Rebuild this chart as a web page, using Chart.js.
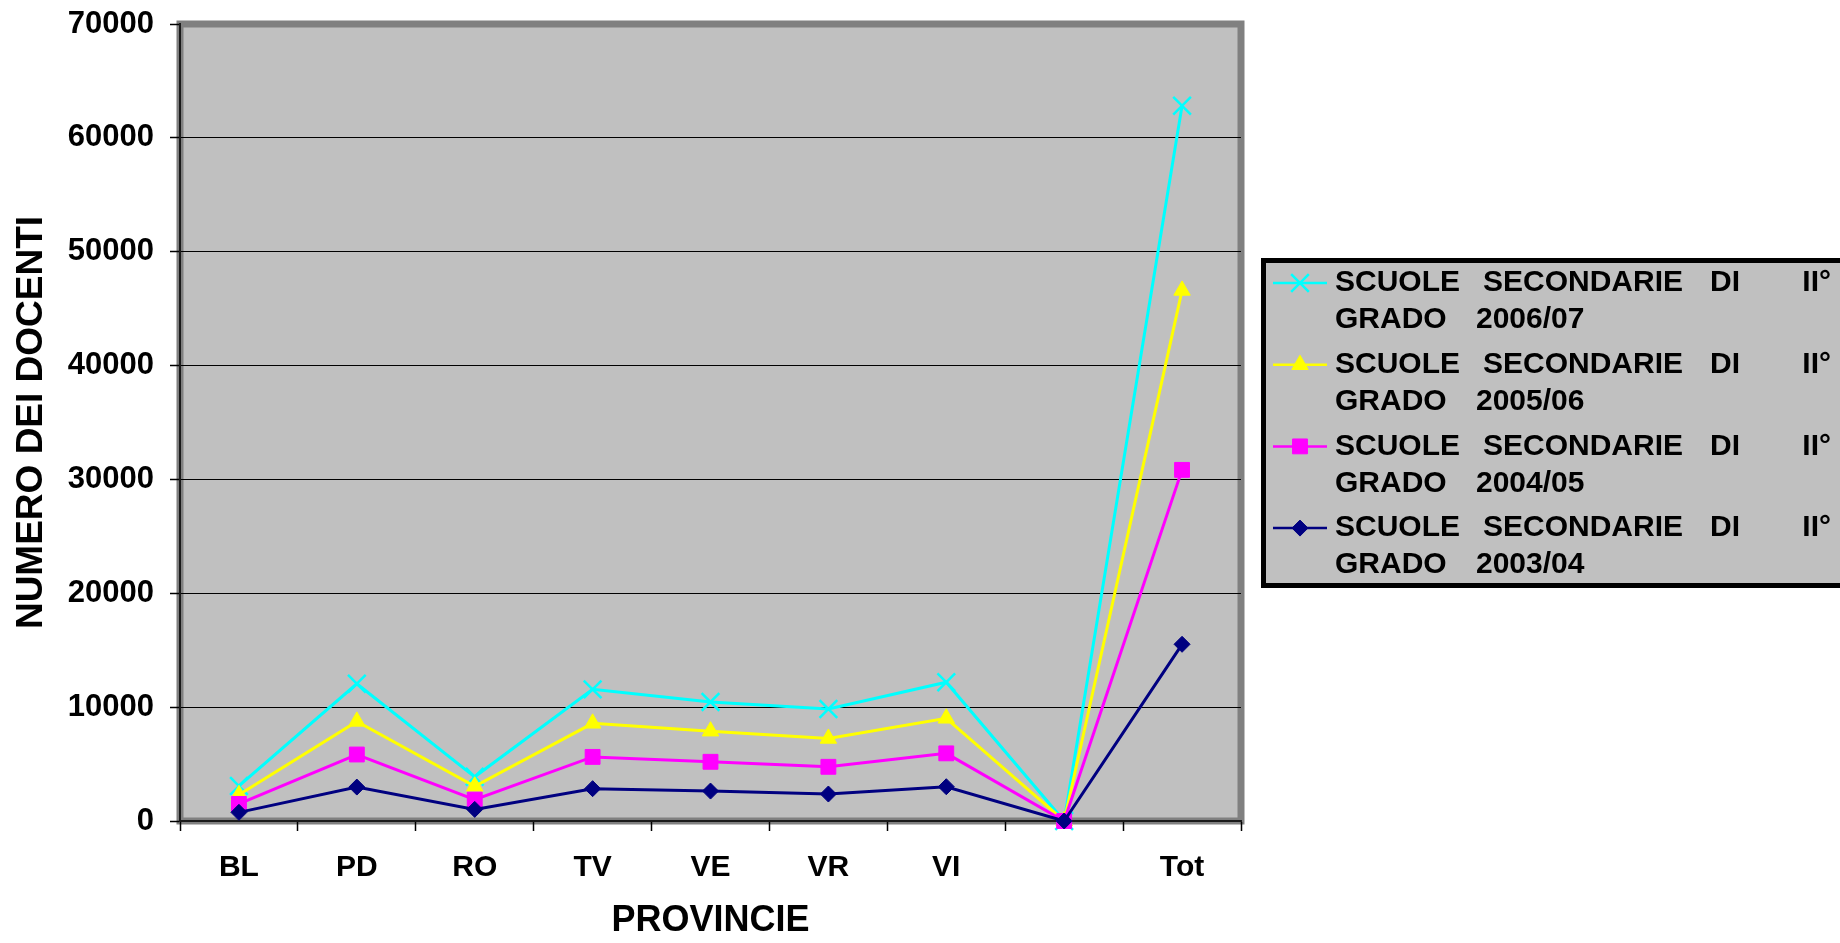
<!DOCTYPE html>
<html>
<head>
<meta charset="utf-8">
<script src="https://cdn.jsdelivr.net/npm/chart.js@4/dist/chart.umd.min.js"></script>
<style>
  html, body { margin: 0; padding: 0; background: #fff; }
  #grafico { display: block; }
</style>
</head>
<body>
<canvas id="grafico" width="1840" height="943"></canvas>
<script>
const province = ["BL", "PD", "RO", "TV", "VE", "VR", "VI", "", "Tot"];

const docenti0304 = [760, 2980, 1020, 2840, 2630, 2370, 3010, 0, 15520];
const docenti0405 = [1500, 5840, 1880, 5630, 5200, 4760, 5940, 0, 30840];
const docenti0506 = [2300, 8750, 3050, 8580, 7890, 7250, 9020, 0, 46600];
const docenti0607 = [3080, 12050, 3880, 11560, 10460, 9830, 12190, 0, 62820];

const etichetteSerie = ["2003/04", "2004/05", "2005/06", "2006/07"];
const tickY = [0, 10000, 20000, 30000, 40000, 50000, 60000, 70000];

const FONT = "'Liberation Sans', Arial, sans-serif";

function serie(anno, dati, colore, stile, raggio, bordo) {
  return {
    label: "SCUOLE SECONDARIE DI II° GRADO " + anno,
    data: dati,
    borderColor: colore,
    backgroundColor: colore,
    borderWidth: 3,
    pointStyle: stile,
    pointRadius: raggio,
    pointHoverRadius: raggio,
    pointBorderWidth: bordo,
    pointBackgroundColor: colore,
    pointBorderColor: colore,
    tension: 0,
    clip: false,
  };
}

// sfondo grigio e cornice dell'area del grafico (stile Excel)
const cornice = {
  id: "cornice",
  beforeDraw(chart) {
    const { ctx, chartArea: a } = chart;
    ctx.save();
    ctx.fillStyle = "#c0c0c0";
    ctx.fillRect(a.left, a.top, a.right - a.left, a.bottom - a.top);
    ctx.strokeStyle = "#808080";
    ctx.lineWidth = 7;
    ctx.strokeRect(a.left, a.top, a.right - a.left, a.bottom - a.top);
    ctx.restore();
  },
};

// legenda a due righe, come nell'originale
const legenda = {
  id: "legenda",
  afterDraw(chart) {
    const { ctx } = chart;
    const x0 = 1261, y0 = 258, h = 330;
    ctx.save();
    ctx.fillStyle = "#c0c0c0";
    ctx.fillRect(x0, y0, 1840 - x0 + 10, h);
    ctx.strokeStyle = "#000";
    ctx.lineWidth = 5;
    ctx.strokeRect(x0 + 2.5, y0 + 2.5, 1840 - x0 + 10, h - 5);

    const ordine = [3, 2, 1, 0];
    ordine.forEach((idx, i) => {
      const ds = chart.data.datasets[idx];
      const yr = 283 + i * 81.7;
      ctx.strokeStyle = ds.borderColor;
      ctx.lineWidth = 2.5;
      ctx.beginPath();
      ctx.moveTo(x0 + 12, yr);
      ctx.lineTo(x0 + 66, yr);
      ctx.stroke();
      ctx.fillStyle = ds.pointBackgroundColor;
      ctx.strokeStyle = ds.pointBorderColor;
      ctx.lineWidth = ds.pointBorderWidth;
      Chart.helpers.drawPoint(ctx, { pointStyle: ds.pointStyle, radius: ds.pointRadius, rotation: 0, borderWidth: ds.pointBorderWidth }, x0 + 39, yr);

      ctx.fillStyle = "#000";
      ctx.font = "bold 30px " + FONT;
      ctx.textBaseline = "middle";
      ctx.textAlign = "left";
      ctx.fillText("SCUOLE", x0 + 74, yr);
      ctx.fillText("SECONDARIE", x0 + 222, yr);
      ctx.fillText("DI", x0 + 449, yr);
      ctx.textAlign = "right";
      ctx.fillText("II°", x0 + 570, yr);
      ctx.textAlign = "left";
      ctx.fillText("GRADO", x0 + 74, yr + 37);
      ctx.fillText(etichetteSerie[idx], x0 + 215, yr + 37);
    });
    ctx.restore();
  },
};

new Chart(document.getElementById("grafico"), {
  type: "line",
  data: {
    labels: province,
    datasets: [
      serie(etichetteSerie[0], docenti0304, "#000080", "rectRot", 8, 1),
      serie(etichetteSerie[1], docenti0405, "#ff00ff", "rect", 10.5, 1),
      serie(etichetteSerie[2], docenti0506, "#ffff00", "triangle", 9.5, 1),
      serie(etichetteSerie[3], docenti0607, "#00ffff", "crossRot", 12.5, 2.5),
    ],
  },
  options: {
    responsive: false,
    animation: false,
    events: [],
    layout: { padding: { top: 24, right: 599, left: 0, bottom: 0 } },
    plugins: { legend: { display: false }, tooltip: { enabled: false } },
    scales: {
      x: {
        offset: true,
        afterFit: (s) => { s.height = 122; s.paddingLeft = 0; s.paddingRight = 0; },
        grid: { offset: true, drawOnChartArea: false, tickLength: 10, tickColor: "#000", tickWidth: 1.5 },
        border: { color: "#1a1a1a", width: 2 },
        ticks: {
          autoSkip: false, maxRotation: 0, padding: 19, color: "#000",
          font: { family: FONT, size: 30, weight: "bold", lineHeight: 1.2 },
        },
        title: {
          display: true, text: "PROVINCIE", color: "#000", padding: { top: 0, bottom: 0 },
          font: { family: FONT, size: 36, weight: "bold", lineHeight: 1.2 },
        },
      },
      y: {
        min: 0,
        max: 70000,
        afterFit: (s) => { s.width = 180; s.paddingTop = 0; s.paddingBottom = 0; },
        afterBuildTicks: (s) => { s.ticks = tickY.map((v) => ({ value: v })); },
        grid: {
          color: (c) => (c.tick && (c.tick.value === 0 || c.tick.value === 70000)) ? "rgba(0,0,0,0)" : "#000",
          lineWidth: 1, tickLength: 10, tickColor: "#000", tickWidth: 1.5,
        },
        border: { color: "#1a1a1a", width: 2 },
        ticks: {
          padding: 16, color: "#000",
          callback: (v) => String(v),
          font: { family: FONT, size: 31, weight: "bold" },
        },
        title: {
          display: true, text: "NUMERO DEI DOCENTI", color: "#000", padding: { top: 13.5, bottom: 0 },
          font: { family: FONT, size: 37, weight: "bold", lineHeight: 1 },
        },
      },
    },
  },
  plugins: [cornice, legenda],
});
</script>
</body>
</html>
